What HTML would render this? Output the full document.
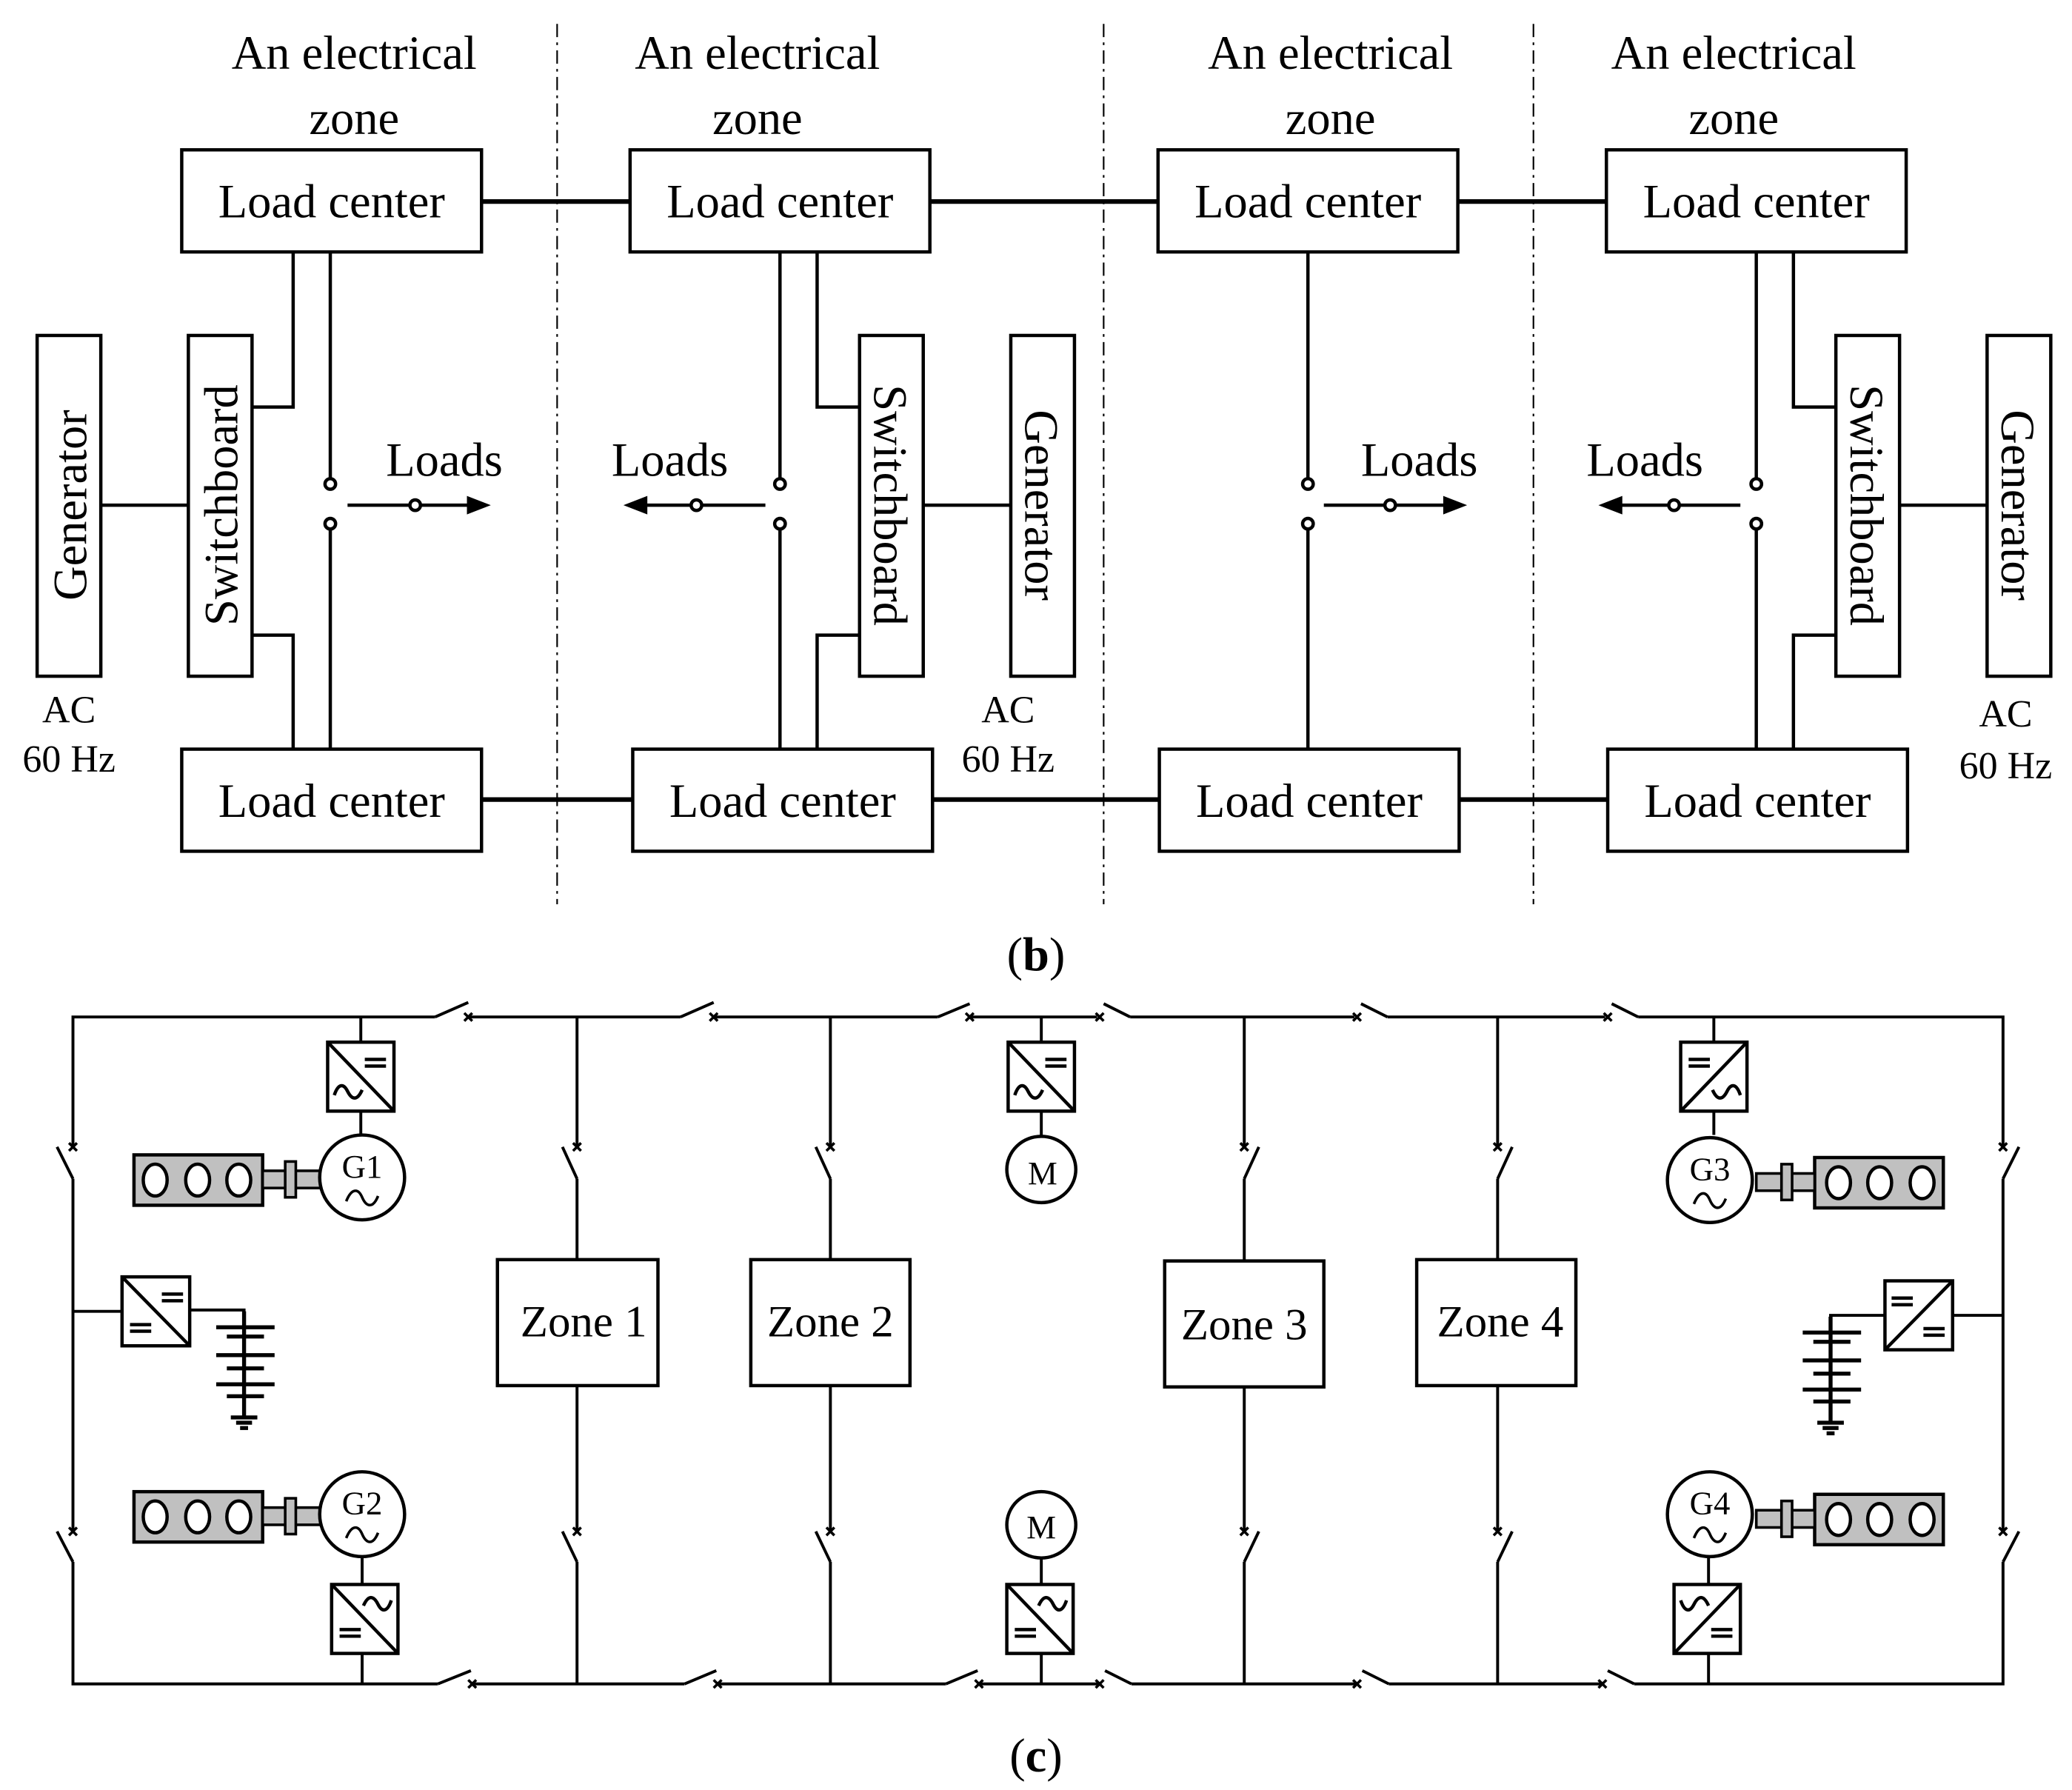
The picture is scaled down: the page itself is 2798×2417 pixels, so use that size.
<!DOCTYPE html>
<html><head><meta charset="utf-8"><style>
html,body{margin:0;padding:0;background:#fff;}
svg{display:block;}
text{font-family:"Liberation Serif",serif;fill:#000;}
</style></head><body>
<svg width="2798" height="2417" viewBox="0 0 1562 1350" preserveAspectRatio="none" xmlns="http://www.w3.org/2000/svg">
<defs>
<g id="convA"><rect x="0" y="0" width="50" height="52" fill="#fff" stroke="#000" stroke-width="2.5"/><line x1="0" y1="0" x2="50" y2="52" stroke="#000" stroke-width="2.5"/><line x1="28" y1="13" x2="44" y2="13" stroke="#000" stroke-width="2.5"/><line x1="28" y1="18" x2="44" y2="18" stroke="#000" stroke-width="2.5"/><path d="M5,40 C8,31 12,31 15,37 S22,45 26,36" fill="none" stroke="#000" stroke-width="2.5"/></g>
<g id="convB"><rect x="0" y="0" width="51" height="52" fill="#fff" stroke="#000" stroke-width="2.5"/><line x1="0" y1="0" x2="51" y2="52" stroke="#000" stroke-width="2.5"/><line x1="30" y1="13" x2="46" y2="13" stroke="#000" stroke-width="2.5"/><line x1="30" y1="18" x2="46" y2="18" stroke="#000" stroke-width="2.5"/><line x1="6" y1="36" x2="22" y2="36" stroke="#000" stroke-width="2.5"/><line x1="6" y1="41" x2="22" y2="41" stroke="#000" stroke-width="2.5"/></g>
<g id="eng"><rect x="0" y="0" width="97" height="38" fill="#c0c0c0" stroke="#000" stroke-width="2.5"/><ellipse cx="16" cy="19" rx="9" ry="12" fill="#fff" stroke="#000" stroke-width="2.5"/><ellipse cx="48" cy="19" rx="9" ry="12" fill="#fff" stroke="#000" stroke-width="2.5"/><ellipse cx="79" cy="19" rx="9" ry="12" fill="#fff" stroke="#000" stroke-width="2.5"/><rect x="97" y="12" width="44" height="13" fill="#c0c0c0" stroke="#000" stroke-width="2"/><rect x="114" y="5" width="8" height="27" fill="#c0c0c0" stroke="#000" stroke-width="2"/></g>
<g id="bat" stroke="#000" stroke-width="3" fill="none"><line x1="0" y1="-12" x2="0" y2="68"/><line x1="-21" y1="0" x2="23" y2="0"/><line x1="-13" y1="7" x2="15" y2="7"/><line x1="-21" y1="21" x2="23" y2="21"/><line x1="-13" y1="31" x2="15" y2="31"/><line x1="-21" y1="43" x2="23" y2="43"/><line x1="-13" y1="52" x2="15" y2="52"/><line x1="-10" y1="68" x2="10" y2="68"/><line x1="-6" y1="72" x2="6" y2="72"/><line x1="-3" y1="76" x2="3" y2="76"/></g>
<g id="xm" stroke="#000" stroke-width="2"><line x1="-3" y1="-3" x2="3" y2="3"/><line x1="-3" y1="3" x2="3" y2="-3"/></g>
</defs>

<!-- (b) -->
<g stroke="#000" stroke-width="1.2" stroke-dasharray="10,4,2,4"><line x1="420" y1="18" x2="420" y2="682"/><line x1="832" y1="18" x2="832" y2="682"/><line x1="1156" y1="18" x2="1156" y2="682"/></g>
<g font-size="36" text-anchor="middle">
<text x="267" y="52">An electrical</text><text x="267" y="101">zone</text>
<text x="571" y="52">An electrical</text><text x="571" y="101">zone</text>
<text x="1003" y="52">An electrical</text><text x="1003" y="101">zone</text>
<text x="1307" y="52">An electrical</text><text x="1307" y="101">zone</text>
</g>
<g fill="none" stroke="#000" stroke-width="2.5">
<rect x="137" y="113" width="226" height="77"/><rect x="475" y="113" width="226" height="77"/><rect x="873" y="113" width="226" height="77"/><rect x="1211" y="113" width="226" height="77"/>
<rect x="137" y="565" width="226" height="77"/><rect x="477" y="565" width="226" height="77"/><rect x="874" y="565" width="226" height="77"/><rect x="1212" y="565" width="226" height="77"/>
<rect x="28" y="253" width="48" height="257"/><rect x="142" y="253" width="48" height="257"/>
<rect x="648" y="253" width="48" height="257"/><rect x="762" y="253" width="48" height="257"/>
<rect x="1384" y="253" width="48" height="257"/><rect x="1498" y="253" width="48" height="257"/>
</g>
<g fill="none" stroke="#000" stroke-width="3.5">
<line x1="363" y1="152" x2="475" y2="152"/><line x1="701" y1="152" x2="873" y2="152"/><line x1="1099" y1="152" x2="1211" y2="152"/>
<line x1="363" y1="603" x2="477" y2="603"/><line x1="703" y1="603" x2="874" y2="603"/><line x1="1100" y1="603" x2="1212" y2="603"/>
</g>
<g fill="none" stroke="#000" stroke-width="2.5">
<line x1="76" y1="381" x2="142" y2="381"/>
<polyline points="221,190 221,307 190,307"/><polyline points="221,565 221,479 190,479"/>
<line x1="249" y1="190" x2="249" y2="362"/><line x1="249" y1="395" x2="249" y2="565"/>
<line x1="262" y1="381" x2="360" y2="381"/>
<line x1="588" y1="190" x2="588" y2="362"/><line x1="588" y1="395" x2="588" y2="565"/>
<polyline points="616,190 616,307 648,307"/><polyline points="616,565 616,479 648,479"/>
<line x1="696" y1="381" x2="762" y2="381"/>
<line x1="577" y1="381" x2="480" y2="381"/>
<line x1="986" y1="190" x2="986" y2="362"/><line x1="986" y1="395" x2="986" y2="565"/>
<line x1="998" y1="381" x2="1096" y2="381"/>
<line x1="1324" y1="190" x2="1324" y2="362"/><line x1="1324" y1="395" x2="1324" y2="565"/>
<polyline points="1352,190 1352,307 1384,307"/><polyline points="1352,565 1352,479 1384,479"/>
<line x1="1432" y1="381" x2="1498" y2="381"/>
<line x1="1312" y1="381" x2="1215" y2="381"/>
</g>
<g fill="#000">
<polygon points="370,381 352,374 352,388"/><polygon points="470,381 488,374 488,388"/><polygon points="1106,381 1088,374 1088,388"/><polygon points="1205,381 1223,374 1223,388"/>
</g>
<g fill="#fff" stroke="#000" stroke-width="2.5">
<circle cx="249" cy="365" r="4"/><circle cx="249" cy="395" r="4"/><circle cx="313" cy="381" r="4"/>
<circle cx="588" cy="365" r="4"/><circle cx="588" cy="395" r="4"/><circle cx="525" cy="381" r="4"/>
<circle cx="986" cy="365" r="4"/><circle cx="986" cy="395" r="4"/><circle cx="1048" cy="381" r="4"/>
<circle cx="1324" cy="365" r="4"/><circle cx="1324" cy="395" r="4"/><circle cx="1262" cy="381" r="4"/>
</g>
<g font-size="36" text-anchor="middle">
<text x="250" y="164">Load center</text><text x="588" y="164">Load center</text><text x="986" y="164">Load center</text><text x="1324" y="164">Load center</text>
<text x="250" y="616">Load center</text><text x="590" y="616">Load center</text><text x="987" y="616">Load center</text><text x="1325" y="616">Load center</text>
<text x="335" y="359">Loads</text><text x="505" y="359">Loads</text><text x="1070" y="359">Loads</text><text x="1240" y="359">Loads</text>
<text transform="translate(65,381) rotate(-90)">Generator</text>
<text transform="translate(179,381) rotate(-90)">Switchboard</text>
<text transform="translate(659,381) rotate(90)">Switchboard</text>
<text transform="translate(773,381) rotate(90)">Generator</text>
<text transform="translate(1395,381) rotate(90)">Switchboard</text>
<text transform="translate(1509,381) rotate(90)">Generator</text>
</g>
<g font-size="29" text-anchor="middle">
<text x="52" y="545">AC</text><text x="52" y="582">60 Hz</text>
<text x="760" y="545">AC</text><text x="760" y="582">60 Hz</text>
<text x="1512" y="548">AC</text><text x="1512" y="587">60 Hz</text>
</g>
<text x="781" y="732" font-size="36" text-anchor="middle">(<tspan font-weight="bold">b</tspan>)</text>

<!-- (c) -->
<g fill="none" stroke="#000" stroke-width="2.2">
<!-- top bus -->
<polyline points="328,767 55,767 55,865"/>
<line x1="352" y1="767" x2="513" y2="767"/><line x1="538" y1="767" x2="707" y2="767"/><line x1="731" y1="767" x2="827" y2="767"/>
<line x1="852" y1="767" x2="1021" y2="767"/><line x1="1046" y1="767" x2="1210" y2="767"/>
<polyline points="1235,767 1510,767 1510,865"/>
<line x1="328" y1="767" x2="353" y2="756"/><line x1="513" y1="767" x2="538" y2="756"/><line x1="707" y1="767" x2="731" y2="757"/>
<line x1="832" y1="757" x2="852" y2="767"/><line x1="1026" y1="757" x2="1046" y2="767"/><line x1="1215" y1="757" x2="1235" y2="767"/>
<!-- bottom bus -->
<polyline points="330,1270 55,1270 55,1178"/>
<line x1="355" y1="1270" x2="516" y2="1270"/><line x1="540" y1="1270" x2="713" y2="1270"/><line x1="737" y1="1270" x2="828" y2="1270"/>
<line x1="853" y1="1270" x2="1022" y2="1270"/><line x1="1047" y1="1270" x2="1207" y2="1270"/>
<polyline points="1232,1270 1510,1270 1510,1178"/>
<line x1="330" y1="1270" x2="355" y2="1260"/><line x1="516" y1="1270" x2="540" y2="1260"/><line x1="713" y1="1270" x2="737" y2="1260"/>
<line x1="833" y1="1260" x2="853" y2="1270"/><line x1="1027" y1="1260" x2="1047" y2="1270"/><line x1="1212" y1="1260" x2="1232" y2="1270"/>
<!-- rings -->
<line x1="43" y1="865" x2="55" y2="889"/><line x1="55" y1="889" x2="55" y2="1155"/><line x1="43" y1="1155" x2="55" y2="1178"/>
<line x1="1522" y1="865" x2="1510" y2="889"/><line x1="1510" y1="889" x2="1510" y2="1155"/><line x1="1522" y1="1155" x2="1510" y2="1178"/>
<!-- zone taps -->
<line x1="435" y1="767" x2="435" y2="865"/><line x1="424" y1="865" x2="435" y2="889"/><line x1="435" y1="889" x2="435" y2="950"/>
<line x1="435" y1="1045" x2="435" y2="1155"/><line x1="424" y1="1155" x2="435" y2="1178"/><line x1="435" y1="1178" x2="435" y2="1270"/>
<line x1="626" y1="767" x2="626" y2="865"/><line x1="615" y1="865" x2="626" y2="889"/><line x1="626" y1="889" x2="626" y2="950"/>
<line x1="626" y1="1045" x2="626" y2="1155"/><line x1="615" y1="1155" x2="626" y2="1178"/><line x1="626" y1="1178" x2="626" y2="1270"/>
<line x1="938" y1="767" x2="938" y2="865"/><line x1="949" y1="865" x2="938" y2="889"/><line x1="938" y1="889" x2="938" y2="951"/>
<line x1="938" y1="1046" x2="938" y2="1155"/><line x1="949" y1="1155" x2="938" y2="1178"/><line x1="938" y1="1178" x2="938" y2="1270"/>
<line x1="1129" y1="767" x2="1129" y2="865"/><line x1="1140" y1="865" x2="1129" y2="889"/><line x1="1129" y1="889" x2="1129" y2="950"/>
<line x1="1129" y1="1045" x2="1129" y2="1155"/><line x1="1140" y1="1155" x2="1129" y2="1178"/><line x1="1129" y1="1178" x2="1129" y2="1270"/>
<!-- zone boxes -->
<rect x="375" y="950" width="121" height="95" stroke-width="2.5"/><rect x="566" y="950" width="120" height="95" stroke-width="2.5"/>
<rect x="878" y="951" width="120" height="95" stroke-width="2.5"/><rect x="1068" y="950" width="120" height="95" stroke-width="2.5"/>
<!-- G taps -->
<line x1="272" y1="767" x2="272" y2="856"/><line x1="273" y1="1175" x2="273" y2="1270"/>
<line x1="785" y1="767" x2="785" y2="856"/><line x1="785" y1="1175" x2="785" y2="1270"/>
<line x1="1292" y1="767" x2="1292" y2="856"/><line x1="1288" y1="1175" x2="1288" y2="1270"/>
<!-- battery lines -->
<polyline points="55,989 92,989"/><polyline points="143,988 184,988 184,1001"/>
<polyline points="1510,992 1472,992"/><polyline points="1421,992 1380,992 1380,1005"/>
</g>
<g><use href="#xm" x="55" y="865"/><use href="#xm" x="55" y="1155"/><use href="#xm" x="1510" y="865"/><use href="#xm" x="1510" y="1155"/>
<use href="#xm" x="435" y="865"/><use href="#xm" x="435" y="1155"/><use href="#xm" x="626" y="865"/><use href="#xm" x="626" y="1155"/>
<use href="#xm" x="938" y="865"/><use href="#xm" x="938" y="1155"/><use href="#xm" x="1129" y="865"/><use href="#xm" x="1129" y="1155"/>
<use href="#xm" x="353" y="767"/><use href="#xm" x="538" y="767"/><use href="#xm" x="731" y="767"/><use href="#xm" x="829" y="767"/><use href="#xm" x="1023" y="767"/><use href="#xm" x="1212" y="767"/>
<use href="#xm" x="356" y="1270"/><use href="#xm" x="541" y="1270"/><use href="#xm" x="738" y="1270"/><use href="#xm" x="829" y="1270"/><use href="#xm" x="1023" y="1270"/><use href="#xm" x="1208" y="1270"/>
</g>
<!-- converters -->
<use href="#convA" transform="translate(247,786)"/>
<use href="#convA" transform="translate(760,786)"/>
<use href="#convA" transform="translate(300,1247) rotate(180)"/>
<use href="#convA" transform="translate(809,1247) rotate(180)"/>
<use href="#convA" transform="translate(1317,786) scale(-1,1)"/>
<use href="#convA" transform="translate(1262,1247) scale(1,-1)"/>
<use href="#convB" transform="translate(92,963)"/>
<use href="#convB" transform="translate(1472,966) scale(-1,1)"/>
<use href="#bat" transform="translate(184,1001)"/>
<use href="#bat" transform="translate(1380,1005)"/>
<!-- engines -->
<use href="#eng" transform="translate(101,871)"/>
<use href="#eng" transform="translate(101,1125)"/>
<use href="#eng" transform="translate(1465,873) scale(-1,1)"/>
<use href="#eng" transform="translate(1465,1127) scale(-1,1)"/>
<!-- machines -->
<g fill="#fff" stroke="#000" stroke-width="2.5">
<circle cx="273" cy="888" r="32"/><circle cx="273" cy="1142" r="32"/>
<circle cx="1289" cy="890" r="32"/><circle cx="1289" cy="1142" r="32"/>
<ellipse cx="785" cy="882" rx="26" ry="25"/><ellipse cx="785" cy="1150" rx="26" ry="25"/>
</g>
<g fill="none" stroke="#000" stroke-width="2">
<path d="M261,906 C265,896 270,896 273,903 S281,912 285,902"/>
<path d="M261,1160 C265,1150 270,1150 273,1157 S281,1166 285,1156"/>
<path d="M1277,908 C1281,898 1286,898 1289,905 S1297,914 1301,904"/>
<path d="M1277,1160 C1281,1150 1286,1150 1289,1157 S1297,1166 1301,1156"/>
</g>
<g font-size="25" text-anchor="middle">
<text x="273" y="888">G1</text><text x="273" y="1142">G2</text><text x="1289" y="890">G3</text><text x="1289" y="1142">G4</text>
<text x="786" y="893">M</text><text x="785" y="1160">M</text>
</g>
<g font-size="34" text-anchor="middle">
<text x="440" y="1008">Zone 1</text><text x="626" y="1008">Zone 2</text><text x="938" y="1010">Zone 3</text><text x="1131" y="1008">Zone 4</text>
</g>
<text x="781" y="1336" font-size="36" text-anchor="middle">(<tspan font-weight="bold">c</tspan>)</text>
</svg>
</body></html>
